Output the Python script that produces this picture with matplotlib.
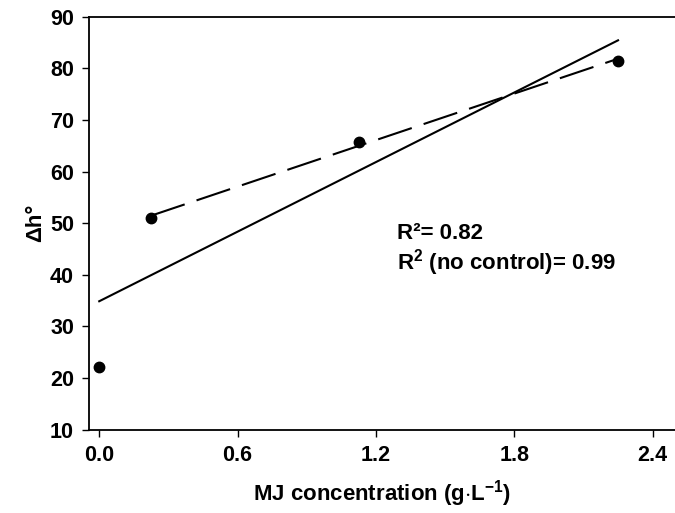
import matplotlib
matplotlib.use('Agg')
import matplotlib.pyplot as plt
import numpy as np

# MJ concentration (g/L) vs delta h
conc = [0.0, 0.225, 1.125, 2.25]
dh = [22.1, 51.0, 65.8, 81.5]

xticks = [0.0, 0.6, 1.2, 1.8, 2.4]
yticks = [10, 20, 30, 40, 50, 60, 70, 80, 90]

plt.rcParams['font.family'] = 'Liberation Sans'
plt.rcParams['font.weight'] = 'bold'
plt.rcParams['mathtext.fontset'] = 'custom'
plt.rcParams['mathtext.rm'] = 'Liberation Sans:bold'
plt.rcParams['mathtext.it'] = 'Liberation Sans:bold'
plt.rcParams['mathtext.bf'] = 'Liberation Sans:bold'

fig = plt.figure(figsize=(6.75, 5.13), dpi=100)
ax = fig.add_axes([0.1323, 0.1624, 0.8677, 0.805])

x = np.array(conc)
y = np.array(dh)

# fit with all points (solid) and without control (dashed)
a1, b1 = np.polyfit(x, y, 1)
a2, b2 = np.polyfit(x[1:], y[1:], 1)
xs = np.array([x[0], x[-1]])
ax.plot(xs, a1 * xs + b1, color='black', lw=1.5)
xd = np.array([x[1], x[-1]])
ax.plot(xd, a2 * xd + b2, color='black', lw=1.5, dashes=(17, 6))
ax.plot(x, y, 'o', color='black', ms=7.5, clip_on=False, zorder=5)

ax.set_xlim(-0.043, 2.497)
ax.set_ylim(10, 90)
ax.set_xticks(xticks)
ax.set_xticklabels(['%.1f' % t for t in xticks])
ax.set_yticks(yticks)
ax.spines['right'].set_visible(False)
for s in ['left', 'bottom', 'top']:
    ax.spines[s].set_linewidth(1.3)
ax.tick_params(direction='out', length=5, width=1, labelsize=15.5)
ax.tick_params(axis='x', pad=6)
ax.tick_params(axis='y', pad=6)

ax.text(1.29, 48.1, 'R²= 0.82', fontsize=16, va='center', fontweight='bold')
ax.text(1.29, 42.3, r'R$^2$ (no control)= 0.99', fontsize=16, va='center', fontweight='bold')

ax.set_xlabel(r'MJ concentration (g$\cdot$L$^{-1}$)', fontsize=16, fontweight='bold', labelpad=9)
ax.set_ylabel('Δh°', fontsize=16, fontweight='bold', labelpad=3)

fig.savefig('out.png', dpi=100)
